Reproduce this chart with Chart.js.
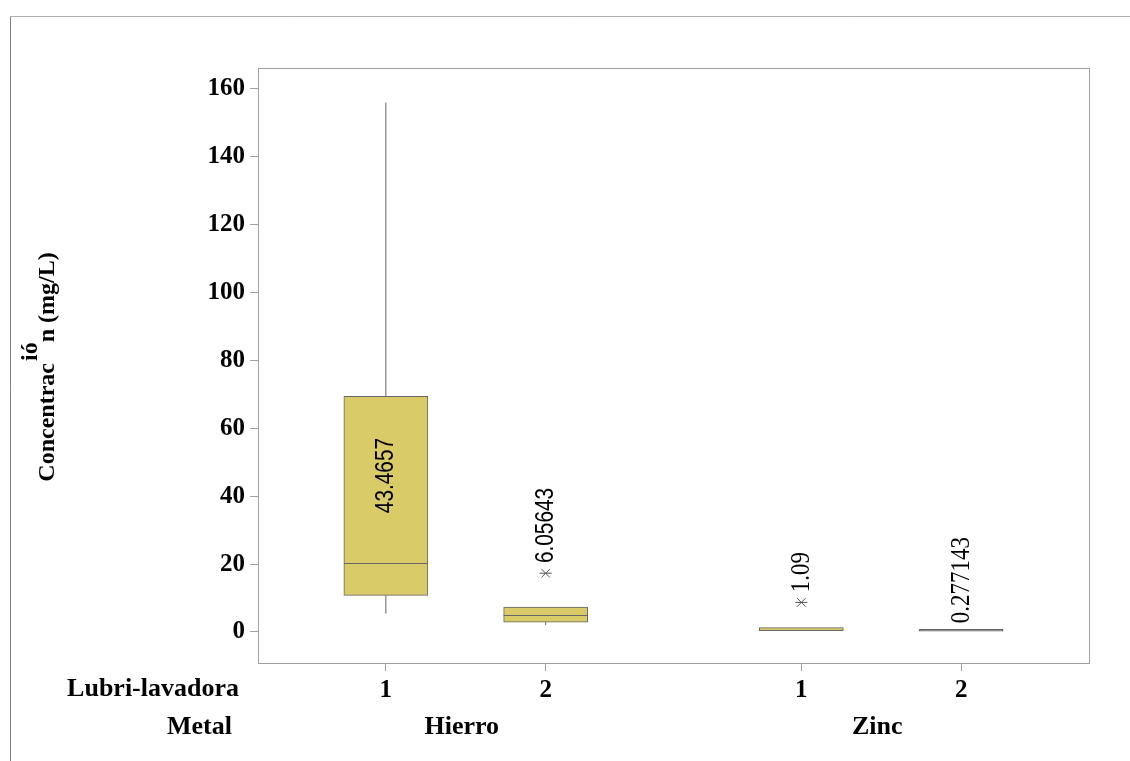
<!DOCTYPE html>
<html>
<head>
<meta charset="utf-8">
<script src="https://cdn.jsdelivr.net/npm/chart.js@4.4.1/dist/chart.umd.min.js"></script>
<style>
  html, body { margin: 0; padding: 0; background: #fff; }
  canvas { display: block; }
</style>
</head>
<body>
<canvas id="myChart" width="1130" height="761"></canvas>
<script>
// Lubri-lavadora / Metal groups
const metals = ['Hierro', 'Hierro', 'Zinc', 'Zinc'];
const lubri = ['1', '2', '1', '2'];
const xPos = [1, 2, 3.6, 4.6];

// box values (mg/L)
const whiskerLow = [5.4, 2.0, 0.4, 0.2];
const q1 = [10.8, 2.9, 0.4, 0.2];
const median = [20.4, 5.0, 0.8, 0.5];
const q3 = [69.4, 7.3, 1.3, 0.8];
const whiskerHigh = [155.9, 7.3, 1.3, 0.8];
const outliers = [[], [17.3], [8.7], []];

// mean labels and where they start on the y axis
const meanLabels = ['43.4657', '6.05643', '1.09', '0.277143'];
const labelFonts = ['sans', 'sans', 'serif', 'serif'];
const labelBase = [35.0, 20.3, 11.7, 2.6];

const yTicks = [0, 20, 40, 60, 80, 100, 120, 140, 160];

const boxFill = '#d9cb68';
const lineGray = '#666666';
const serif = '"Liberation Serif", "Times New Roman", serif';
const sans = '"Liberation Sans", Arial, sans-serif';

// whisker segments as line datasets
const whiskers = [];
xPos.forEach((x, i) => {
  if (whiskerLow[i] < q1[i]) whiskers.push([{x: x, y: whiskerLow[i]}, {x: x, y: q1[i]}]);
  if (whiskerHigh[i] > q3[i]) whiskers.push([{x: x, y: q3[i]}, {x: x, y: whiskerHigh[i]}]);
});

const outlierPts = [];
xPos.forEach((x, i) => outliers[i].forEach(v => outlierPts.push({x: x, y: v})));

const medianPlugin = {
  id: 'medians',
  afterDatasetsDraw(chart) {
    const ctx = chart.ctx;
    const meta = chart.getDatasetMeta(0);
    const y = chart.scales.y;
    ctx.save();
    ctx.strokeStyle = lineGray;
    ctx.lineWidth = 1;
    meta.data.forEach((bar, i) => {
      if (bar.height < 4) return;
      const py = Math.round(y.getPixelForValue(median[i])) + 0.5;
      ctx.beginPath();
      ctx.moveTo(bar.x - bar.width / 2, py);
      ctx.lineTo(bar.x + bar.width / 2, py);
      ctx.stroke();
    });
    // mean labels, rotated and a little condensed
    ctx.fillStyle = '#000';
    xPos.forEach((v, i) => {
      const px = chart.scales.x.getPixelForValue(v);
      const py = y.getPixelForValue(labelBase[i]);
      const isSans = labelFonts[i] === 'sans';
      ctx.save();
      ctx.translate(px, py);
      ctx.rotate(-Math.PI / 2);
      ctx.scale(isSans ? 0.8 : 0.82, 1);
      ctx.font = (isSans ? '26px ' + sans : '28px ' + serif);
      ctx.textAlign = 'left';
      ctx.textBaseline = 'middle';
      ctx.fillText(meanLabels[i], 0, 0);
      ctx.restore();
    });
    ctx.restore();
  }
};

const framePlugin = {
  id: 'frame',
  beforeDraw(chart) {
    const ctx = chart.ctx;
    ctx.save();
    ctx.fillStyle = '#fff';
    ctx.fillRect(0, 0, chart.width, chart.height);
    ctx.lineWidth = 1;
    ctx.strokeStyle = '#b0b0b0';
    ctx.beginPath();
    ctx.moveTo(10.5, 16.5);
    ctx.lineTo(chart.width, 16.5);
    ctx.stroke();
    ctx.strokeStyle = '#808080';
    ctx.beginPath();
    ctx.moveTo(10.5, 16.5);
    ctx.lineTo(10.5, chart.height);
    ctx.stroke();
    ctx.restore();
  },
  afterDraw(chart) {
    const ctx = chart.ctx;
    const a = chart.chartArea;
    const xs = chart.scales.x;
    ctx.save();
    ctx.strokeStyle = '#a0a0a0';
    ctx.lineWidth = 1;
    ctx.strokeRect(Math.round(a.left) + 0.5, Math.round(a.top) + 0.5,
      Math.round(a.right - a.left), Math.round(a.bottom - a.top));

    ctx.fillStyle = '#000';
    ctx.font = 'bold 26px ' + serif;
    ctx.textBaseline = 'middle';
    ctx.textAlign = 'right';
    ctx.fillText('Lubri-lavadora', a.left - 19, a.bottom + 26);
    ctx.fillText('Metal', a.left - 26, a.bottom + 64);

    ctx.textAlign = 'center';
    [...new Set(metals)].forEach(m => {
      const idx = metals.map((v, i) => v === m ? i : -1).filter(i => i >= 0);
      const cx = idx.reduce((s, i) => s + xs.getPixelForValue(xPos[i]), 0) / idx.length;
      ctx.fillText(m, cx - 4, a.bottom + 64);
    });

    // y title with the displaced "ió"
    ctx.save();
    ctx.translate(48, 365);
    ctx.rotate(-Math.PI / 2);
    ctx.font = 'bold 24px ' + serif;
    const p1 = 'Concentrac', p2 = 'ió', p3 = ' n (mg/L)';
    const w1 = ctx.measureText(p1).width;
    const w2 = ctx.measureText(p2).width;
    const w3 = ctx.measureText(p3).width;
    let sx = -(w1 + w2 + w3) / 2;
    ctx.textAlign = 'left';
    ctx.fillText(p1, sx, 0);
    ctx.fillText(p2, sx + w1 + 2, -17);
    ctx.fillText(p3, sx + w1 + w2 - 4, 0);
    ctx.restore();
    ctx.restore();
  }
};

new Chart(document.getElementById('myChart'), {
  type: 'bar',
  data: {
    datasets: [
      {
        type: 'bar',
        data: xPos.map((x, i) => ({x: x, y: [q1[i], q3[i]]})),
        // a collapsed box shows only as its grey outline
        backgroundColor: c => (q3[c.dataIndex] - q1[c.dataIndex] < 0.7 ? lineGray : boxFill),
        borderColor: lineGray,
        borderWidth: 1,
        borderSkipped: false,
        barThickness: 84,
        order: 2
      },
      ...whiskers.map(seg => ({
        type: 'line',
        data: seg,
        borderColor: lineGray,
        borderWidth: 1,
        pointRadius: 0,
        order: 3
      })),
      {
        type: 'scatter',
        data: outlierPts,
        pointStyle: 'crossRot',
        pointRadius: 6,
        borderColor: '#555',
        borderWidth: 1,
        order: 1
      },
      {
        type: 'scatter',
        data: outlierPts,
        pointStyle: 'line',
        pointRadius: 6,
        borderColor: '#555',
        borderWidth: 1,
        order: 1
      }
    ]
  },
  options: {
    responsive: false,
    animation: false,
    layout: { padding: { left: 0, top: 68, right: 41, bottom: 0 } },
    plugins: { legend: { display: false }, tooltip: { enabled: false } },
    scales: {
      x: {
        type: 'linear',
        min: 0.2,
        max: 5.4,
        offset: false,
        afterBuildTicks: s => { s.ticks = xPos.map(v => ({value: v})); },
        afterFit: s => { s.height = 98; },
        border: { display: false },
        grid: { drawOnChartArea: false, drawTicks: true, tickLength: 8, color: '#a0a0a0', offset: false },
        ticks: {
          padding: 5,
          color: '#000',
          font: { family: serif, size: 25, weight: 'bold' },
          callback: v => lubri[xPos.indexOf(v)],
          maxRotation: 0,
          autoSkip: false
        }
      },
      y: {
        min: -9.14,
        max: 166.1,
        afterBuildTicks: s => { s.ticks = yTicks.map(v => ({value: v})); },
        afterFit: s => { s.width = 258; },
        border: { display: false },
        grid: { drawOnChartArea: false, drawTicks: true, tickLength: 8, color: '#a0a0a0' },
        ticks: {
          padding: 5,
          color: '#000',
          font: { family: serif, size: 25, weight: 'bold' }
        }
      }
    }
  },
  plugins: [framePlugin, medianPlugin]
});
</script>
</body>
</html>
